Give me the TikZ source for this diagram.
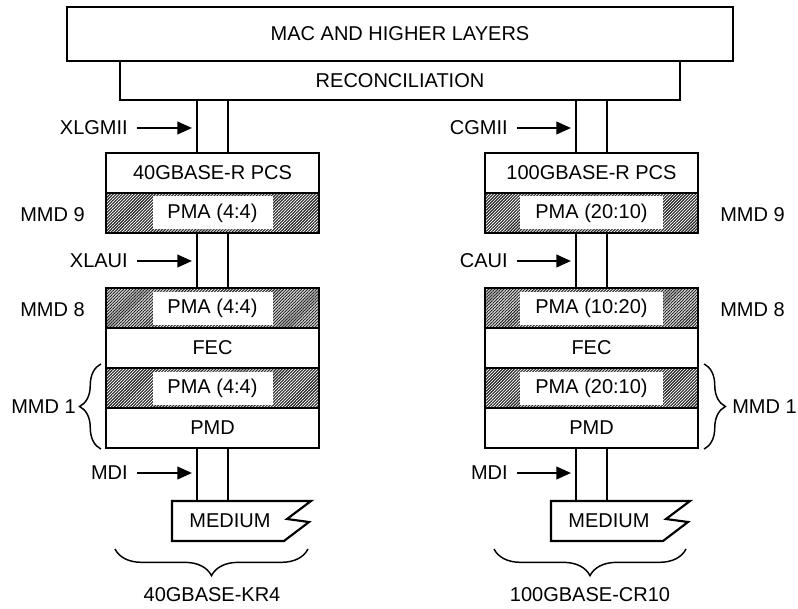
\documentclass[tikz,border=0pt]{standalone}
\usepackage{fontspec}
\setmainfont{Liberation Sans}
\usetikzlibrary{arrows.meta,patterns.meta,decorations.pathreplacing,calc}
\tikzset{
  txt/.style={font=\fontsize{15}{18}\selectfont,inner sep=0pt},
  layerbox/.style={txt,draw=black,fill=white,line width=1.6pt,
                   minimum width=159.75pt,minimum height=30pt},
  hatchbox/.style={layerbox,
                   pattern={Lines[angle=45,distance=1.6pt,line width=0.85pt]},
                   pattern color=black!85},
  tagbox/.style={txt,fill=white,minimum height=24.75pt},
  link/.style={line width=1.6pt},
  ifarrow/.style={-{Triangle[length=11pt,width=9.5pt]},line width=1.6pt},
  grp/.style={decorate,decoration={brace,amplitude=16pt},line width=1.1pt},
  medium/.style={line width=1.6pt,line join=miter}
}
\begin{document}
\begin{tikzpicture}[x=0.75pt,y=-0.75pt]
    \path[use as bounding box] (0,0) rectangle (798,609);
    % shared layers
    \node[layerbox,minimum width=499.5pt,minimum height=40.5pt] (mac)
      at (400,34) {MAC AND HIGHER LAYERS};
    \node[layerbox,minimum width=420pt,minimum height=29.25pt] (recon)
      at (400,80.5) {RECONCILIATION};
    % 40G stack
    \node[layerbox] (pcsL) at (212.5,173) {40GBASE-R PCS};
    \node[hatchbox] (pmaLa) at (212.5,213) {};
    \node[tagbox,minimum width=90pt] (pmaLaT) at (pmaLa) {PMA (4:4)};
    \node[hatchbox] (pmaLb) at (212.5,308) {};
    \node[tagbox,minimum width=90pt] (pmaLbT) at (pmaLb) {PMA (4:4)};
    \node[layerbox] (fecL) at (212.5,348) {FEC};
    \node[hatchbox] (pmaLc) at (212.5,388) {};
    \node[tagbox,minimum width=90pt] (pmaLcT) at (pmaLc) {PMA (4:4)};
    \node[layerbox] (pmdL) at (212.5,428) {PMD};
    % 100G stack
    \node[layerbox] (pcsR) at (591.5,173) {100GBASE-R PCS};
    \node[hatchbox] (pmaRa) at (591.5,213) {};
    \node[tagbox,minimum width=107.25pt] (pmaRaT) at (pmaRa) {PMA (20:10)};
    \node[hatchbox] (pmaRb) at (591.5,308) {};
    \node[tagbox,minimum width=107.25pt] (pmaRbT) at (pmaRb) {PMA (10:20)};
    \node[layerbox] (fecR) at (591.5,348) {FEC};
    \node[hatchbox] (pmaRc) at (591.5,388) {};
    \node[tagbox,minimum width=107.25pt] (pmaRcT) at (pmaRc) {PMA (20:10)};
    \node[layerbox] (pmdR) at (591.5,428) {PMD};
    % media
    \coordinate (medLtop) at (212.5,501);
    \coordinate (medRtop) at (591.5,501);
    \draw[medium] (172,501) -- (311,501) -- (287,519) -- (309,522)
      -- (284,541) -- (172,541) -- cycle;
    \node[txt] (medL) at (230,521) {MEDIUM};
    \draw[medium] (551,501) -- (690,501) -- (666,519) -- (688,522)
      -- (663,541) -- (551,541) -- cycle;
    \node[txt] (medR) at (609,521) {MEDIUM};
    % interfaces
    \foreach \a/\b in {pcsL.north/recon.south,pmaLb.north/pmaLa.south,
                       pmdL.south/medLtop,pcsR.north/recon.south,
                       pmaRb.north/pmaRa.south,pmdR.south/medRtop}
      \foreach \dx in {-11.6pt,11.6pt}
        \draw[link] ([xshift=\dx]\a) -- ([xshift=\dx]\a |- \b);
    \node[txt,anchor=east] (xlgmii) at (128,128) {XLGMII};
    \node[txt,anchor=east] (xlaui) at (128,261) {XLAUI};
    \node[txt,anchor=east] (mdiL) at (128,473) {MDI};
    \node[txt,anchor=east] (cgmii) at (508,128) {CGMII};
    \node[txt,anchor=east] (caui) at (508,261) {CAUI};
    \node[txt,anchor=east] (mdiR) at (508,473) {MDI};
    \draw[ifarrow] ([xshift=6.75pt]xlgmii.east)
      -- ([xshift=-15.4pt]xlgmii.east -| pcsL.north);
    \draw[ifarrow] ([xshift=6.75pt]xlaui.east)
      -- ([xshift=-15.4pt]xlaui.east -| pcsL.north);
    \draw[ifarrow] ([xshift=6.75pt]mdiL.east)
      -- ([xshift=-15.4pt]mdiL.east -| pcsL.north);
    \draw[ifarrow] ([xshift=6.75pt]cgmii.east)
      -- ([xshift=-15.4pt]cgmii.east -| pcsR.north);
    \draw[ifarrow] ([xshift=6.75pt]caui.east)
      -- ([xshift=-15.4pt]caui.east -| pcsR.north);
    \draw[ifarrow] ([xshift=6.75pt]mdiR.east)
      -- ([xshift=-15.4pt]mdiR.east -| pcsR.north);
    % MMD labels
    \node[txt,anchor=east] (mmdLa) at (85,215) {MMD 9};
    \node[txt,anchor=east] (mmdLb) at (85,310) {MMD 8};
    \node[txt,anchor=east] (mmdLc) at (76,407) {MMD 1};
    \node[txt,anchor=west] (mmdRa) at (720,215) {MMD 9};
    \node[txt,anchor=west] (mmdRb) at (720,310) {MMD 8};
    \node[txt,anchor=west] (mmdRc) at (732,407) {MMD 1};
    \draw[grp] ([xshift=-3pt]pmdL.south west)
      -- ([xshift=-3pt,yshift=2.25pt]pmaLc.north west);
    \draw[grp] ([xshift=3.75pt,yshift=2.25pt]pmaRc.north east)
      -- ([xshift=3.75pt]pmdR.south east);
    % PHY types
    \draw[grp,decoration={amplitude=20pt}] (308,549) -- (115,549);
    \draw[grp,decoration={amplitude=20pt}] (686,549) -- (494,549);
    \node[txt] (kr4) at (212,595) {40GBASE-KR4};
    \node[txt] (cr10) at (590,595) {100GBASE-CR10};
  \end{tikzpicture}
\end{document}
